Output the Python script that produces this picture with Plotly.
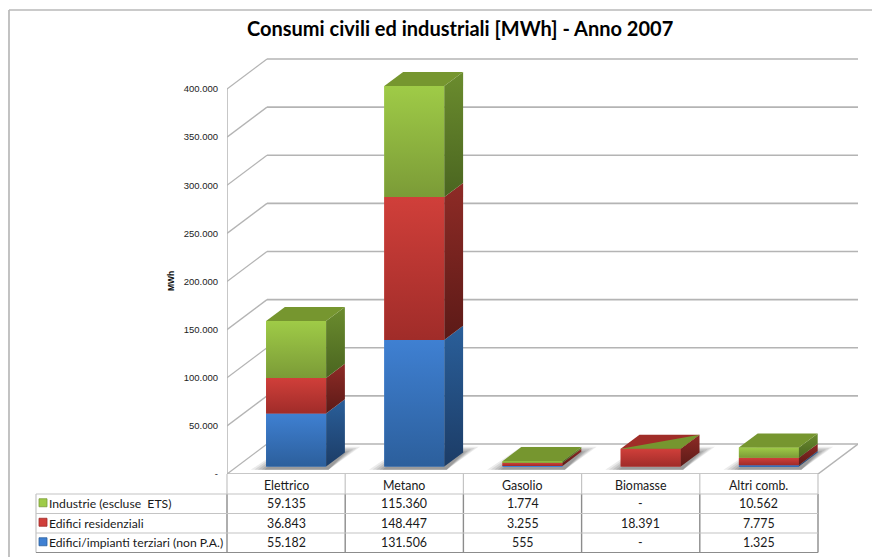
import plotly.graph_objects as go

categories = ["Elettrico", "Metano", "Gasolio", "Biomasse", "Altri comb."]
series_names = ["Edifici/impianti terziari (non P.A.)", "Edifici residenziali", "Industrie (escluse ETS)"]
terziari = [55182, 131506, 555, 0, 1325]
residenziali = [36843, 148447, 3255, 18391, 7775]
industrie = [59135, 115360, 1774, 0, 10562]
tick_values = [0, 50000, 100000, 150000, 200000, 250000, 300000, 350000, 400000]
title_text = "Consumi civili ed industriali [MWh] - Anno 2007"

# layout geometry (pixels of the 872x557 page)
L, R, T, B = 227, 858, 50, 474
CAT_W = 118.2
PX_PER_UNIT = 0.9625 / 1000
DX = 40 / CAT_W            # depth of the oblique floor, x units
DY = 30 / PX_PER_UNIT      # depth of the oblique floor, value units
BAR_W = 60 / CAT_W
D0, D1 = 0.25, 0.72
GRID = "#b4b4b4"

styles = {
    0: dict(front=("#3f80d2", "#2c5f9c"), side=("#2a5f9a", "#1c3c66"), top="#2f67a8"),
    1: dict(front=("#d03f3a", "#a02c29"), side=("#8e2b26", "#5c1a17"), top="#a02d28"),
    2: dict(front=("#9fcb47", "#7b9b37"), side=("#6b8c2e", "#4a6520"), top="#76962f"),
}
series = [terziari, residenziali, industrie]


def fmt(v):
    return "-" if v == 0 else f"{v:,}".replace(",", ".")


def px(x):
    return (x - L) / (R - L)


def py(y):
    return (B - y) / (B - T)


def polygon(xs, ys, colors=None, solid=None):
    kw = dict(x=list(xs) + [xs[0]], y=list(ys) + [ys[0]], mode="lines", fill="toself",
              line=dict(width=0), hoverinfo="skip", showlegend=False)
    if colors:
        kw["fillgradient"] = dict(type="vertical", start=max(ys), stop=min(ys),
                                  colorscale=[[0, colors[0]], [1, colors[1]]])
    else:
        kw["fillcolor"] = solid
    return go.Scatter(**kw)


shapes = []


def line(x0, y0, x1, y1, color=GRID, width=1.5, xref="x", yref="y", layer="below"):
    shapes.append(dict(type="line", x0=x0, y0=y0, x1=x1, y1=y1, xref=xref, yref=yref,
                       layer=layer, line=dict(color=color, width=width)))


# walls and floor
x_front_end = len(categories)
line(0, 0, 0, tick_values[-1], width=1.5)
line(0, 0, x_front_end, 0, width=1.5)
line(x_front_end, 0, x_front_end + DX, DY)
for t in tick_values:
    line(0, t, DX, t + DY, width=1.3)
    line(DX, t + DY, x_front_end + DX, t + DY, width=1.6)

# soft floor shadows
ddx, ddy = (D1 - D0) * DX, (D1 - D0) * DY
for i in range(len(categories)):
    cx = i + 0.5 + D0 * DX
    xl, xr = cx - BAR_W / 2, cx + BAR_W / 2
    base = D0 * DY
    for grow, alpha in [(0.13, 0.12), (0.10, 0.14), (0.07, 0.16), (0.04, 0.18), (0.015, 0.22)]:
        lift = grow * 45000
        xs = [xl - grow, xr + 0.02, xr + ddx + grow, xl + ddx]
        ys = [base - 3500, base - 3500, base + ddy + lift, base + ddy + lift]
        path = "M" + " L".join(f"{a},{b}" for a, b in zip(xs, ys)) + " Z"
        shapes.append(dict(type="path", path=path, layer="below", xref="x", yref="y",
                           line=dict(width=0), fillcolor=f"rgba(90,90,90,{alpha})"))

fig = go.Figure()

# front faces: a stacked bar per series, lifted to the bars' place on the floor
bar_x = [i + 0.5 + D0 * DX for i in range(len(categories))]
cum = [D0 * DY] * len(categories)
bases = []
for s, name, vals in zip(range(3), series_names, series):
    bases.append(list(cum))
    fig.add_trace(go.Bar(x=bar_x, y=vals, base=list(cum), width=BAR_W, name=name,
                         marker=dict(color=styles[s]["front"][0], line=dict(width=0)),
                         showlegend=False,
                         hovertemplate=name + ": %{y}<extra></extra>"))
    cum = [c + v for c, v in zip(cum, vals)]

# shading, side faces and tops
for i in range(len(categories)):
    xl, xr = bar_x[i] - BAR_W / 2, bar_x[i] + BAR_W / 2
    for s in range(3):
        v = series[s][i]
        if v == 0:
            continue
        b = bases[s][i]
        st = styles[s]
        fig.add_trace(polygon([xl, xr, xr, xl], [b, b, b + v, b + v], colors=st["front"]))
        fig.add_trace(polygon([xr, xr + ddx, xr + ddx, xr], [b, b + ddy, b + v + ddy, b + v], colors=st["side"]))
    topv = cum[i]
    xs = [xl, xr, xr + ddx, xl + ddx]
    ys = [topv, topv, topv + ddy, topv + ddy]
    upper = max(s for s in range(3) if series[s][i] > 0)
    fig.add_trace(polygon(xs, ys, solid=styles[upper]["top"]))
    if upper < 2:  # zero-height green segment shares the plane with the top
        fig.add_trace(polygon([xl, xr, xr + ddx], [topv, topv, topv + ddy], solid=styles[2]["top"]))

# outer frame
line(px(9), py(557), px(9), py(10), color="#9a9a9a", width=1.2, xref="paper", yref="paper", layer="above")
line(px(9), py(10), px(872), py(10), color="#b8b8b8", width=1.5, xref="paper", yref="paper", layer="above")

# data table
col_x = [L + CAT_W * i for i in range(len(categories) + 1)]
ROWS = [474, 494, 513.5, 533, 552.5]
TBL_L = 36
DARK, LIGHT = "#8c8c8c", "#c4c4c4"
for cx in col_x:
    line(px(cx), py(ROWS[0]), px(cx), py(ROWS[1]), color=LIGHT, width=1.2, xref="paper", yref="paper")
    line(px(cx), py(ROWS[1]), px(cx), py(ROWS[4]), color=DARK, width=1.4, xref="paper", yref="paper")
line(px(TBL_L), py(ROWS[1]), px(TBL_L), py(ROWS[4]), color=LIGHT, width=1.2, xref="paper", yref="paper")
for r in ROWS[1:]:
    line(px(TBL_L), py(r), px(col_x[-1]), py(r), color=LIGHT if r != ROWS[-1] else DARK, width=1.2, xref="paper", yref="paper")

annotations = []
TFONT = dict(family="Lato, Carlito, sans-serif", size=12.4, color="#1a1a1a")
KFONT = dict(family="Lato, Carlito, sans-serif", size=12.2, color="#1a1a1a")


def label(x, y, text, font, xanchor="center", **kw):
    annotations.append(dict(x=px(x), y=py(y), xref="paper", yref="paper", xanchor=xanchor, yanchor="middle",
                            text=text, showarrow=False, font=font, **kw))


for i, c in enumerate(categories):
    label(col_x[i] + CAT_W / 2, (ROWS[0] + ROWS[1]) / 2 + 1, c, TFONT)
row_order = [2, 1, 0]
row_labels = ["Industrie (escluse \u00a0ETS)", "Edifici residenziali", "Edifici/impianti terziari (non P.A.)"]
for rk, s in enumerate(row_order):
    yc = (ROWS[rk + 1] + ROWS[rk + 2]) / 2
    label(47, yc, row_labels[rk], KFONT, xanchor="left")
    shapes.append(dict(type="rect", x0=px(39), x1=px(47), y0=py(yc - 5), y1=py(yc + 3), xref="paper", yref="paper",
                       fillcolor=styles[s]["front"][0], line=dict(color=styles[s]["front"][1], width=0.8)))
    for i in range(len(categories)):
        label(col_x[i] + CAT_W / 2, yc, fmt(series[s][i]), TFONT)

label(460, 28, f"<b>{title_text}</b>", dict(family="Lato, sans-serif", size=20, color="#000000"))
label(171, 281, "<b>MWh</b>", dict(family="Liberation Sans, Arial, sans-serif", size=8.5, color="#111111"), textangle=-90)

fig.update_layout(
    width=872, height=557, autosize=False,
    margin=dict(l=L, r=872 - R, t=T, b=557 - B, pad=0),
    paper_bgcolor="white", plot_bgcolor="white",
    barmode="overlay", showlegend=False,
    shapes=shapes, annotations=annotations,
    xaxis=dict(range=[0, (R - L) / CAT_W], visible=False, fixedrange=True),
    yaxis=dict(range=[0, (B - T) / PX_PER_UNIT], tickmode="array", tickvals=tick_values,
               ticktext=[fmt(t) for t in tick_values], showgrid=False, zeroline=False, showline=False,
               ticks="", ticklen=0, ticklabelstandoff=8, fixedrange=True,
               tickfont=dict(family="Liberation Sans, Arial, sans-serif", size=9.5, color="#222222")),
)
fig.write_html("out.html", config=dict(displayModeBar=False),
               post_script="document.body.style.margin='0';document.documentElement.style.overflow='hidden';")
